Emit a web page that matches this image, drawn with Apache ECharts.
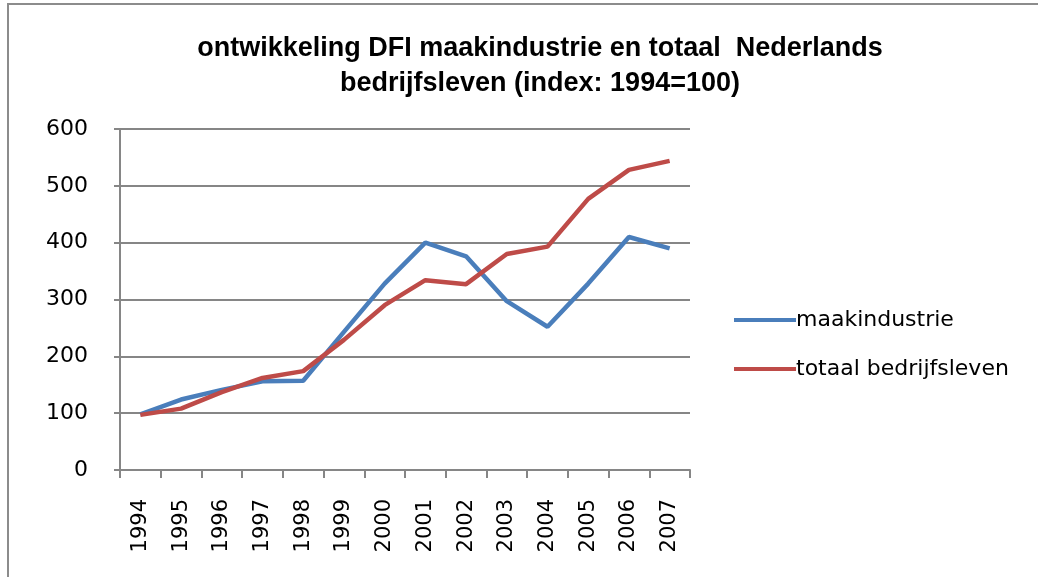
<!DOCTYPE html>
<html>
<head>
<meta charset="utf-8">
<script src="https://cdn.jsdelivr.net/npm/echarts@6/dist/echarts.min.js"></script>
<style>
  html, body { margin: 0; padding: 0; background: #fff; }
  #frame { position: absolute; left: 7px; top: 3px; width: 1040px; height: 580px; border: 2px solid #8c8c8c; box-sizing: border-box; }
  #chart { position: absolute; left: 0; top: 0; width: 1038px; height: 577px; }
</style>
</head>
<body>
<div id="frame"></div>
<div id="chart"></div>
<script>
  // jaren op de x-as
  const years = ['1994', '1995', '1996', '1997', '1998', '1999', '2000', '2001', '2002', '2003', '2004', '2005', '2006', '2007'];
  // index 1994 = 100
  const maakindustrie = [98, 124, 141, 156, 157, 243, 328, 400, 376, 297, 252, 328, 410, 390];
  const totaalBedrijfsleven = [97, 108, 137, 162, 174, 229, 290, 334, 327, 380, 393, 477, 528, 544];
  const yTicks = [0, 100, 200, 300, 400, 500, 600];

  const axisGray = '#868686';
  const font = 'DejaVu Sans';

  let myChart = echarts.init(document.getElementById('chart'));
  let option = {
    animation: false,
    title: {
      text: 'ontwikkeling DFI maakindustrie en totaal  Nederlands\nbedrijfsleven (index: 1994=100)',
      left: 535,
      textAlign: 'center',
      top: 26,
      textStyle: {
        fontFamily: 'Liberation Sans',
        fontWeight: 'bold',
        fontSize: 27,
        lineHeight: 35,
        color: '#000'
      }
    },
    legend: {
      orient: 'vertical',
      left: 729,
      top: 304,
      itemWidth: 62,
      itemHeight: 20,
      itemGap: 27,
      icon: 'path://M0,0 L62,0 L62,4 L0,4 Z',
      textStyle: { fontFamily: font, fontSize: 22, color: '#000', padding: [0, 0, 0, -5] },
      data: ['maakindustrie', 'totaal bedrijfsleven']
    },
    grid: { left: 120, right: 348, top: 129, bottom: 107 },
    xAxis: {
      type: 'category',
      data: years,
      boundaryGap: true,
      axisLine: { lineStyle: { color: axisGray, width: 2 } },
      axisTick: { show: true, length: 8, interval: 0, lineStyle: { color: axisGray, width: 2 } },
      axisLabel: { rotate: 90, interval: 0, margin: 29, fontFamily: font, fontSize: 21, color: '#000' }
    },
    yAxis: {
      type: 'value',
      min: yTicks[0],
      max: yTicks[yTicks.length - 1],
      interval: 100,
      axisLine: { show: true, lineStyle: { color: axisGray, width: 2 } },
      axisTick: { show: true, length: 6, lineStyle: { color: axisGray, width: 2 } },
      axisLabel: { margin: 32, fontFamily: font, fontSize: 22, color: '#000' },
      splitLine: { lineStyle: { color: axisGray, width: 2 } }
    },
    series: [
      {
        name: 'maakindustrie',
        type: 'line',
        data: maakindustrie,
        symbol: 'none',
        itemStyle: { color: '#4a7ebb' },
        lineStyle: { color: '#4a7ebb', width: 4.5 }
      },
      {
        name: 'totaal bedrijfsleven',
        type: 'line',
        data: totaalBedrijfsleven,
        symbol: 'none',
        itemStyle: { color: '#be4b48' },
        lineStyle: { color: '#be4b48', width: 4.5 }
      }
    ]
  };
  option && myChart.setOption(option);
</script>
</body>
</html>
